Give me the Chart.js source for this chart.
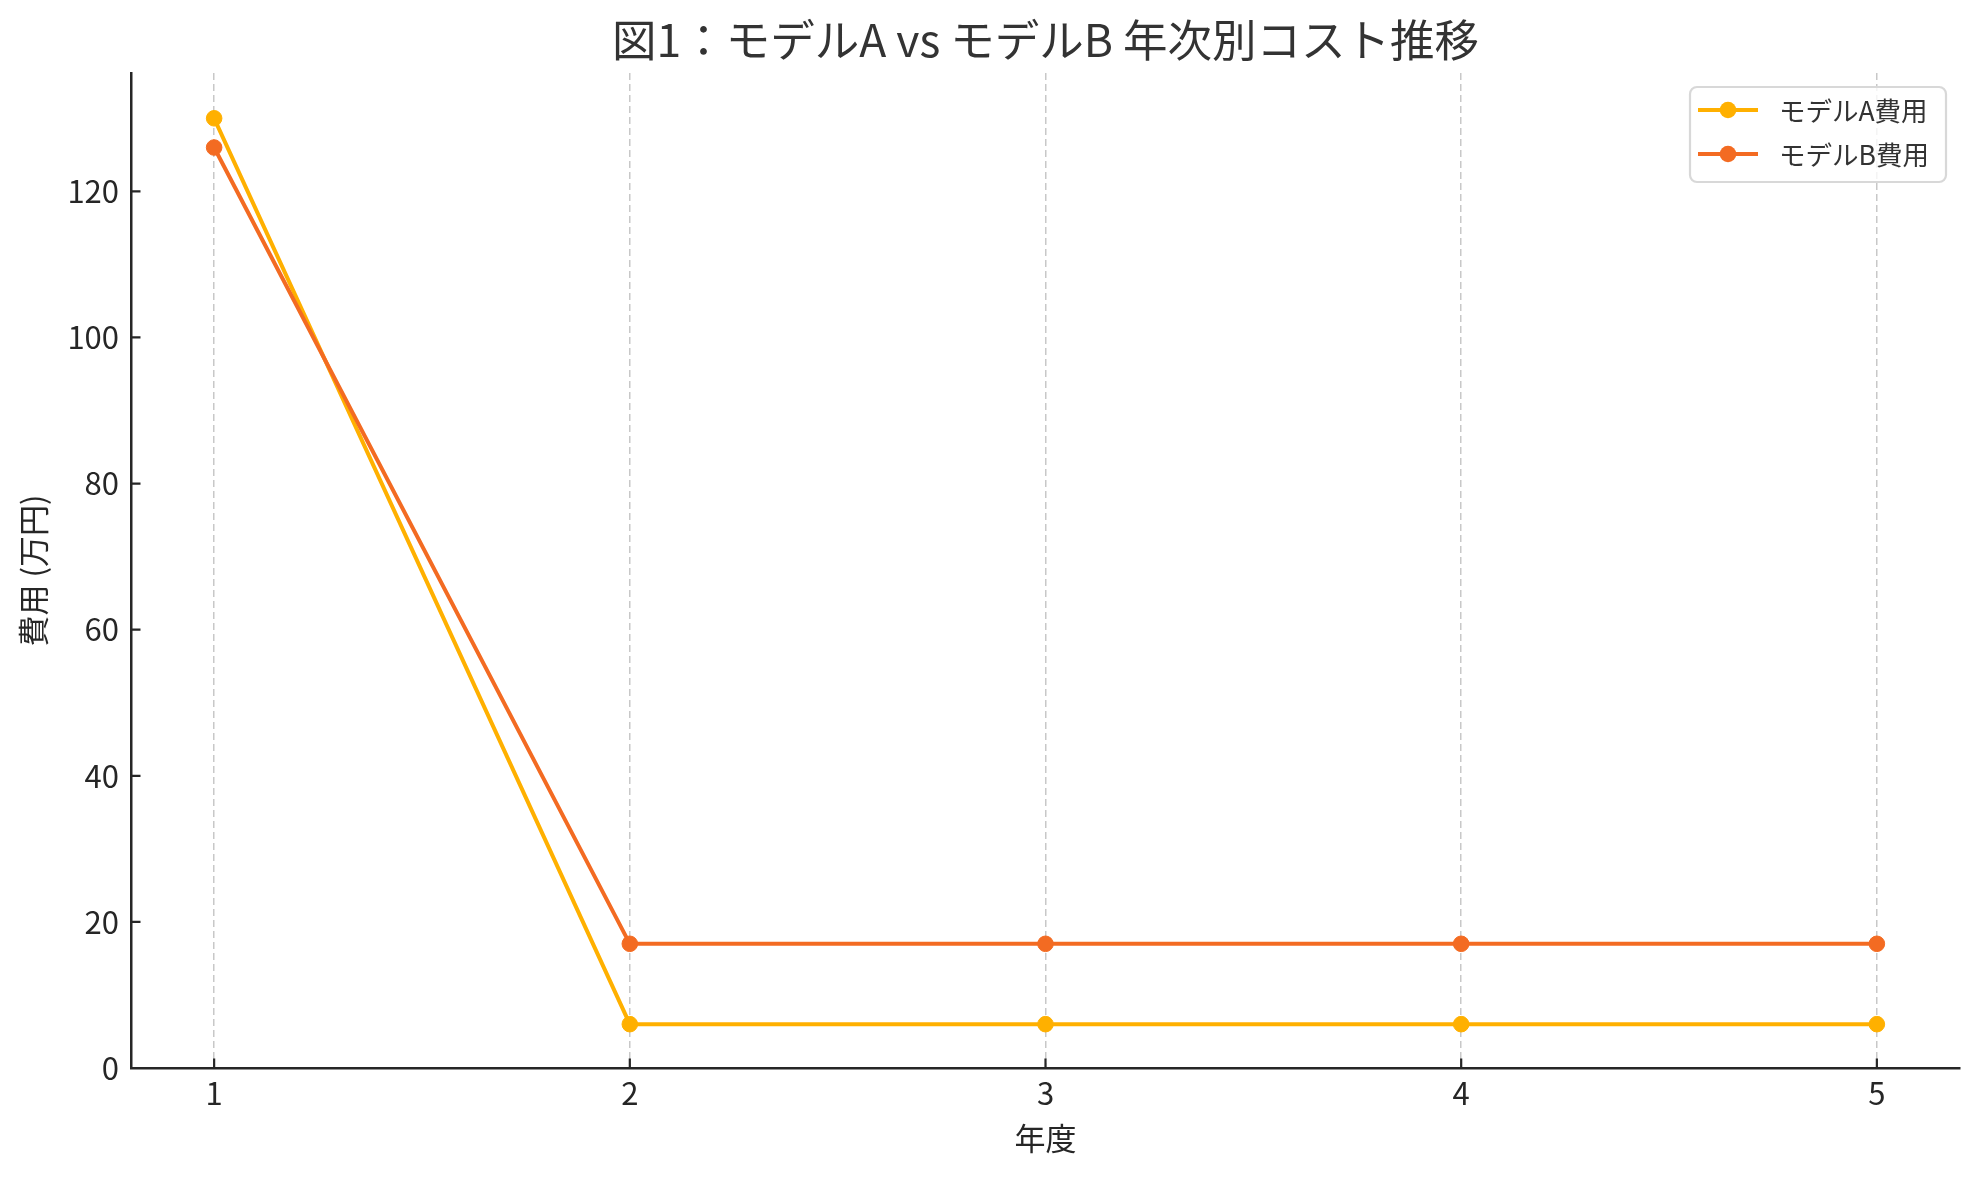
<!DOCTYPE html>
<html lang="ja">
<head>
<meta charset="utf-8">
<title>図1：モデルA vs モデルB 年次別コスト推移</title>
<script src="https://cdn.jsdelivr.net/npm/chart.js@4.4.1/dist/chart.umd.min.js"></script>
<style>
  html, body { margin: 0; padding: 0; background: #fff; }
  #wrap { width: 1980px; height: 1180px; }
</style>
</head>
<body>
<div id="wrap"><canvas id="costChart" width="1980" height="1180"></canvas></div>
<script>
// data
const years = [1, 2, 3, 4, 5];
const modelA = [130, 6, 6, 6, 6];
const modelB = [126, 17, 17, 17, 17];
const yTicks = [0, 20, 40, 60, 80, 100, 120];
const seriesNames = ['モデルA費用', 'モデルB費用'];
const seriesColors = ['#ffb000', '#f36b22'];
const chartTitle = '図1：モデルA vs モデルB 年次別コスト推移';

const FONT = "'Noto Sans CJK JP', 'Noto Sans', sans-serif";
const INK = '#262626';

const toPoints = vals => years.map((x, i) => ({ x, y: vals[i] }));

// title centred over the plot area, like matplotlib
const plotTitle = {
  id: 'plotTitle',
  afterDraw(chart) {
    const { ctx, chartArea } = chart;
    ctx.save();
    ctx.font = '44.5px ' + FONT;
    ctx.fillStyle = '#333';
    ctx.textAlign = 'center';
    ctx.textBaseline = 'middle';
    ctx.fillText(chartTitle, (chartArea.left + chartArea.right) / 2, 40);
    ctx.restore();
  }
};

// ticks pointing into the plot
const innerTicks = {
  id: 'innerTicks',
  afterDraw(chart) {
    const { ctx, chartArea, scales } = chart;
    const len = 9.5;
    ctx.save();
    ctx.strokeStyle = INK;
    ctx.lineWidth = 2.2;
    ctx.beginPath();
    scales.y.ticks.forEach(t => {
      const py = scales.y.getPixelForValue(t.value);
      ctx.moveTo(chartArea.left, py);
      ctx.lineTo(chartArea.left + len, py);
    });
    scales.x.ticks.forEach(t => {
      const px = scales.x.getPixelForValue(t.value);
      ctx.moveTo(px, chartArea.bottom);
      ctx.lineTo(px, chartArea.bottom - len);
    });
    ctx.stroke();
    ctx.restore();
  }
};

// boxed legend in the upper right corner
const boxLegend = {
  id: 'boxLegend',
  afterDraw(chart) {
    const ctx = chart.ctx;
    const x = 1690, y = 87, w = 256, h = 95;
    ctx.save();
    ctx.fillStyle = 'rgba(255,255,255,0.8)';
    ctx.strokeStyle = '#d8d8d8';
    ctx.lineWidth = 2.2;
    ctx.beginPath();
    ctx.roundRect(x, y, w, h, 7);
    ctx.fill();
    ctx.stroke();
    ctx.font = '26.5px ' + FONT;
    ctx.textBaseline = 'middle';
    ctx.textAlign = 'left';
    seriesNames.forEach((name, i) => {
      const cy = 110 + i * 44;
      ctx.strokeStyle = seriesColors[i];
      ctx.lineWidth = 4;
      ctx.beginPath();
      ctx.moveTo(1698, cy);
      ctx.lineTo(1758, cy);
      ctx.stroke();
      ctx.fillStyle = seriesColors[i];
      ctx.beginPath();
      ctx.arc(1728, cy, 8.3, 0, Math.PI * 2);
      ctx.fill();
      ctx.fillStyle = '#333';
      ctx.fillText(name, 1779, cy + 1);
    });
    ctx.restore();
  }
};

new Chart(document.getElementById('costChart'), {
  type: 'line',
  data: {
    datasets: [
      { label: seriesNames[0], data: toPoints(modelA), borderColor: seriesColors[0], backgroundColor: seriesColors[0],
        pointBackgroundColor: seriesColors[0], pointBorderColor: seriesColors[0], borderWidth: 4, pointRadius: 7.8,
        pointBorderWidth: 1, tension: 0, order: 2 },
      { label: seriesNames[1], data: toPoints(modelB), borderColor: seriesColors[1], backgroundColor: seriesColors[1],
        pointBackgroundColor: seriesColors[1], pointBorderColor: seriesColors[1], borderWidth: 4, pointRadius: 7.8,
        pointBorderWidth: 1, tension: 0, order: 1 }
    ]
  },
  options: {
    responsive: false,
    animation: false,
    devicePixelRatio: 1,
    layout: { padding: { left: 0, right: 20, top: 73, bottom: 0 } },
    plugins: {
      legend: { display: false },
      tooltip: { enabled: false },
      title: { display: false }
    },
    scales: {
      x: {
        type: 'linear',
        min: 0.8,
        max: 5.2,
        afterBuildTicks: s => { s.ticks = years.map(v => ({ value: v })); },
        afterFit: s => { s.height = 112; },
        ticks: { color: INK, font: { family: FONT, size: 31 }, padding: 7, callback: v => String(v) },
        grid: { display: true, drawTicks: false, color: '#c8c8c8', lineWidth: 1.5 },
        border: { display: true, color: INK, width: 2.5, dash: [7, 4] },
        title: { display: true, text: '年度', color: INK, font: { family: FONT, size: 31 }, padding: { top: 0, bottom: 23 } }
      },
      y: {
        min: 0,
        max: 136.2,
        afterBuildTicks: s => { s.ticks = yTicks.map(v => ({ value: v })); },
        afterFit: s => { s.width = 131; },
        ticks: { color: INK, font: { family: FONT, size: 31 }, padding: 12 },
        grid: { display: true, drawOnChartArea: false, drawTicks: false },
        border: { display: true, color: INK, width: 2.5 },
        title: { display: true, text: '費用 (万円)', color: INK, font: { family: FONT, size: 31 }, padding: { top: 15, bottom: 0 } }
      }
    }
  },
  plugins: [plotTitle, innerTicks, boxLegend]
});
</script>
</body>
</html>
